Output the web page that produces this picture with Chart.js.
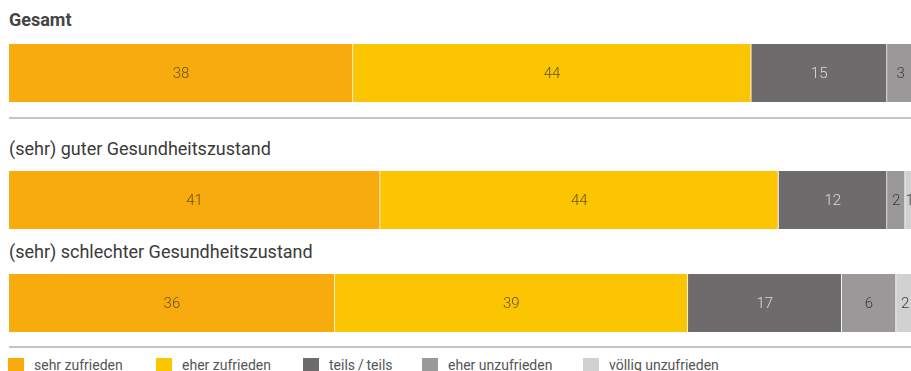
<!DOCTYPE html>
<html lang="de">
<head>
<meta charset="UTF-8">
<title>Zufriedenheit nach Gesundheitszustand</title>
<script src="https://cdn.jsdelivr.net/npm/chart.js"></script>
<style>
    html, body { margin: 0; padding: 0; background: #fff; }
    body { width: 911px; height: 371px; position: relative; overflow: hidden; font-family: Roboto, "Liberation Sans", Arial, sans-serif; }
    .title { position: absolute; left: 9px; font-size: 18px; color: #3a3a3a; line-height: 20px; white-space: nowrap; }
    .title.bold { font-weight: bold; color: #444; }
    .bar { position: absolute; left: 9px; width: 902px; height: 58px; }
    .rule { position: absolute; left: 9px; width: 902px; height: 2px; background: #c4c4c4; }
    .legend { position: absolute; top: 358px; left: 0; width: 911px; height: 13px; }
    .legend span { position: absolute; top: -1px; font-size: 14px; color: #555; line-height: 16px; white-space: nowrap; }
    .legend i { position: absolute; top: 0; width: 16px; height: 15px; }
</style>
</head>
<body>
<div class="title bold" id="t0" style="top:10px"></div>
<div class="bar" style="top:44px"><canvas id="c0"></canvas></div>
<div class="rule" style="top:117px"></div>
<div class="title" id="t1" style="top:139px"></div>
<div class="bar" style="top:171px"><canvas id="c1"></canvas></div>
<div class="title" id="t2" style="top:242px"></div>
<div class="bar" style="top:274px"><canvas id="c2"></canvas></div>
<div class="rule" style="top:346px"></div>
<div class="legend" id="legend"></div>

<script>
    // Daten (Prozent)
    const categories = ['Gesamt', '(sehr) guter Gesundheitszustand', '(sehr) schlechter Gesundheitszustand'];
    const seriesNames = ['sehr zufrieden', 'eher zufrieden', 'teils\u2009/\u2009teils', 'eher unzufrieden', 'völlig unzufrieden'];
    const sehrZufrieden = [38, 41, 36];
    const eherZufrieden = [44, 44, 39];
    const teilsTeils = [15, 12, 17];
    const eherUnzufrieden = [3, 2, 6];
    const voelligUnzufrieden = [1, 1, 2];

    const series = [sehrZufrieden, eherZufrieden, teilsTeils, eherUnzufrieden, voelligUnzufrieden];
    const colors = ['#f8ab0d', '#fbc501', '#6d6b6b', '#9a9898', '#d2d1d1'];
    const labelColors = ['#65521f', '#65521f', '#dcdcdc', '#3a3a3a', '#3a3a3a'];

    // Werte mittig in die Segmente schreiben
    const valueLabels = {
        id: 'valueLabels',
        afterDatasetsDraw(chart) {
            const ctx = chart.ctx;
            ctx.save();
            ctx.font = '300 15px Roboto, "Liberation Sans", Arial, sans-serif';
            ctx.textAlign = 'center';
            ctx.textBaseline = 'middle';
            chart.data.datasets.forEach((ds, i) => {
                const el = chart.getDatasetMeta(i).data[0];
                if (!el) return;
                const x = (el.x + el.base) / 2;
                ctx.fillStyle = labelColors[i];
                ctx.fillText(ds.data[0], x, el.y + 1);
            });
            ctx.restore();
        }
    };

    function makeChart(id, row) {
        new Chart(document.getElementById(id), {
            type: 'bar',
            data: {
                labels: [categories[row]],
                datasets: series.map((s, i) => ({
                    label: seriesNames[i],
                    data: [s[row]],
                    backgroundColor: colors[i],
                    borderColor: '#ffffff',
                    borderWidth: { left: 0, right: 1, top: 0, bottom: 0 },
                    borderSkipped: false,
                    barPercentage: 1,
                    categoryPercentage: 1
                }))
            },
            options: {
                indexAxis: 'y',
                responsive: true,
                maintainAspectRatio: false,
                animation: false,
                layout: { padding: 0 },
                plugins: { legend: { display: false }, tooltip: { enabled: false } },
                scales: {
                    x: { stacked: true, min: 0, max: 99.65, display: false },
                    y: { stacked: true, display: false }
                }
            },
            plugins: [valueLabels]
        });
    }

    categories.forEach((c, i) => {
        document.getElementById('t' + i).textContent = c;
        makeChart('c' + i, i);
    });

    // Legende
    const legendX = [8, 156, 303, 422, 583];
    const legend = document.getElementById('legend');
    seriesNames.forEach((n, i) => {
        const box = document.createElement('i');
        box.style.left = legendX[i] + 'px';
        box.style.background = colors[i];
        legend.appendChild(box);
        const txt = document.createElement('span');
        txt.style.left = (legendX[i] + 26) + 'px';
        txt.textContent = n;
        legend.appendChild(txt);
    });
</script>
</body>
</html>
